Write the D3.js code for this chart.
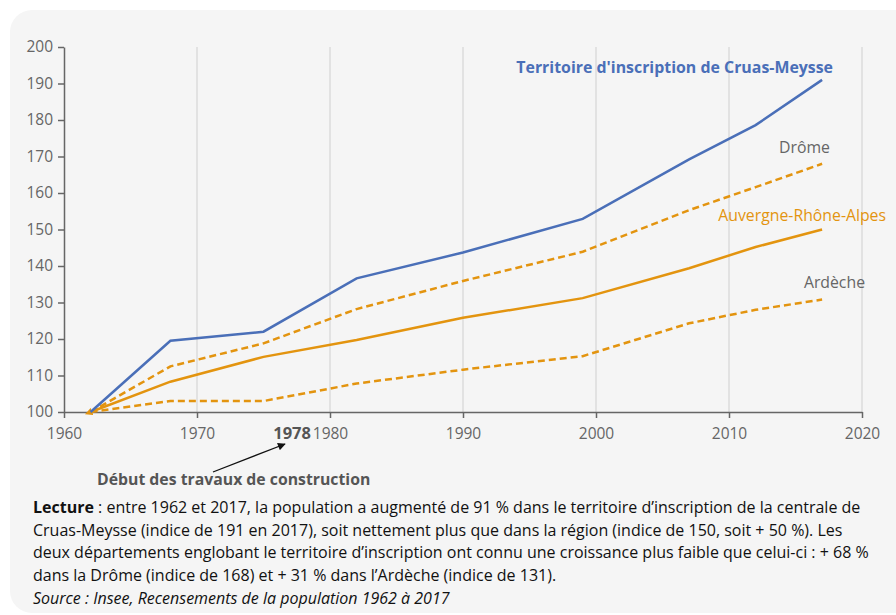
<!DOCTYPE html>
<html>
<head>
<meta charset="utf-8">
<script src="https://cdn.jsdelivr.net/npm/d3@7"></script>
<style>
  body{margin:0;background:#fff;font-family:"Open Sans",sans-serif;}
  svg text{font-family:"Open Sans",sans-serif;}
</style>
</head>
<body>
<script>
var years=[1962,1968,1975,1982,1990,1999,2007,2012,2017];
var cruas=[100,119.5,122,136.6,143.7,152.9,169.2,178.6,191];
var drome=[100,112.5,118.8,128.2,135.9,143.9,155.3,161.6,168];
var region=[100,108.3,115.1,119.7,125.8,131.2,139.4,145.2,150];
var ardeche=[100,103,103,107.8,111.6,115.3,124.3,128,130.8];
var xTicks=[1960,1970,1980,1990,2000,2010,2020];
var yTicks=[100,110,120,130,140,150,160,170,180,190,200];

var width=896,height=615;
var blue='#4a6fb8',orange='#e3940f',grey='#666';

var svg=d3.select('body').append('svg')
  .attr('width',width).attr('height',height);

svg.append('rect')
  .attr('x',10).attr('y',10).attr('width',width+20).attr('height',height-12)
  .attr('rx',22).attr('fill','#f5f5f5');

var x=d3.scaleLinear().domain([1960,2020]).range([64,862]);
var y=d3.scaleLinear().domain([100,200]).range([412,47]);

// grid verticale
svg.append('g').selectAll('line')
  .data(xTicks.slice(1))
  .enter().append('line')
  .attr('x1',d=>x(d)).attr('x2',d=>x(d))
  .attr('y1',y(200)).attr('y2',y(100))
  .attr('stroke','#cfcfcf').attr('stroke-width',1);

var xAxis=svg.append('g').attr('transform','translate(0,'+y(100)+')')
  .call(d3.axisBottom(x).tickValues(xTicks).tickFormat(d3.format('d')).tickSize(6).tickSizeOuter(0));
var yAxis=svg.append('g').attr('transform','translate('+x(1960)+',0)')
  .call(d3.axisLeft(y).tickValues(yTicks).tickSize(6).tickSizeOuter(0));
[xAxis,yAxis].forEach(function(a){
  a.select('.domain').attr('stroke','#666').attr('stroke-width',1.5);
  a.selectAll('.tick line').attr('stroke','#666').attr('stroke-width',1.5);
  a.selectAll('.tick text').attr('fill',grey).style('font-size','15.5px');
});
xAxis.selectAll('.tick text').attr('y',12).attr('dy','0.95em');
yAxis.selectAll('.tick text').attr('x',-11);

svg.append('defs').append('marker')
  .attr('id','head').attr('viewBox','0 0 10 10').attr('refX',2).attr('refY',5)
  .attr('markerWidth',3).attr('markerHeight',3).attr('orient','auto-start-reverse')
  .append('path').attr('d','M0,0L10,5L0,10z').attr('fill',orange);
svg.select('defs').append('marker')
  .attr('id','arrow').attr('viewBox','0 0 10 10').attr('refX',9).attr('refY',5)
  .attr('markerWidth',8).attr('markerHeight',6).attr('orient','auto')
  .append('path').attr('d','M0,0L10,5L0,10z').attr('fill','#111');

var line=d3.line().x((d,i)=>x(years[i])).y(d=>y(d));

function drawSeries(vals,color,dash){
  return svg.append('path').datum(vals)
    .attr('d',line).attr('fill','none')
    .attr('stroke',color).attr('stroke-width',2.5)
    .attr('stroke-dasharray',dash||null);
}
drawSeries(ardeche,orange,'7,4');
drawSeries(drome,orange,'7,4');
drawSeries(region,orange).attr('marker-start','url(#head)');
drawSeries(cruas,blue);

svg.append('text').attr('x',833).attr('y',73).attr('text-anchor','end')
  .attr('fill',blue).style('font-size','15.9px').style('font-weight','bold')
  .text("Territoire d'inscription de Cruas-Meysse");
svg.append('text').attr('x',830).attr('y',153).attr('text-anchor','end')
  .attr('fill',grey).style('font-size','15.8px').text('Drôme');
svg.append('text').attr('x',886).attr('y',221).attr('text-anchor','end')
  .attr('fill',orange).style('font-size','15.8px').text('Auvergne-Rhône-Alpes');
svg.append('text').attr('x',865).attr('y',288).attr('text-anchor','end')
  .attr('fill',grey).style('font-size','15.8px').text('Ardèche');

// annotation 1978
svg.append('text').attr('x',311).attr('y',y(100)+27).attr('text-anchor','end')
  .attr('fill','#555').style('font-size','16.5px').style('font-weight','bold').text('1978');
svg.append('line').attr('x1',213).attr('y1',472).attr('x2',285).attr('y2',444)
  .attr('stroke','#111').attr('stroke-width',1.3).attr('marker-end','url(#arrow)');
svg.append('text').attr('x',97).attr('y',485)
  .attr('fill','#555').style('font-size','15.8px').style('font-weight','bold')
  .text('Début des travaux de construction');

// texte de lecture
var lectureLines=[
  [['Lecture','bold'],[' : entre 1962 et 2017, la population a augmenté de 91 % dans le territoire d\u2019inscription de la centrale de','normal']],
  [['Cruas-Meysse (indice de 191 en 2017), soit nettement plus que dans la région (indice de 150, soit + 50 %). Les','normal']],
  [['deux départements englobant le territoire d\u2019inscription ont connu une croissance plus faible que celui-ci : + 68 %','normal']],
  [['dans la Drôme (indice de 168) et + 31 % dans l\u2019Ardèche (indice de 131).','normal']],
  [['Source : Insee, Recensements de la population 1962 à 2017','italic']]
];
lectureLines.forEach(function(parts,i){
  var t=svg.append('text').attr('x',33).attr('y',513+i*22.7)
    .attr('fill','#111').style('font-size','16px');
  parts.forEach(function(p){
    var s=t.append('tspan').text(p[0]);
    if(p[1]=='bold') s.style('font-weight','bold');
    if(p[1]=='italic') s.style('font-style','italic');
  });
});
</script>
</body>
</html>
